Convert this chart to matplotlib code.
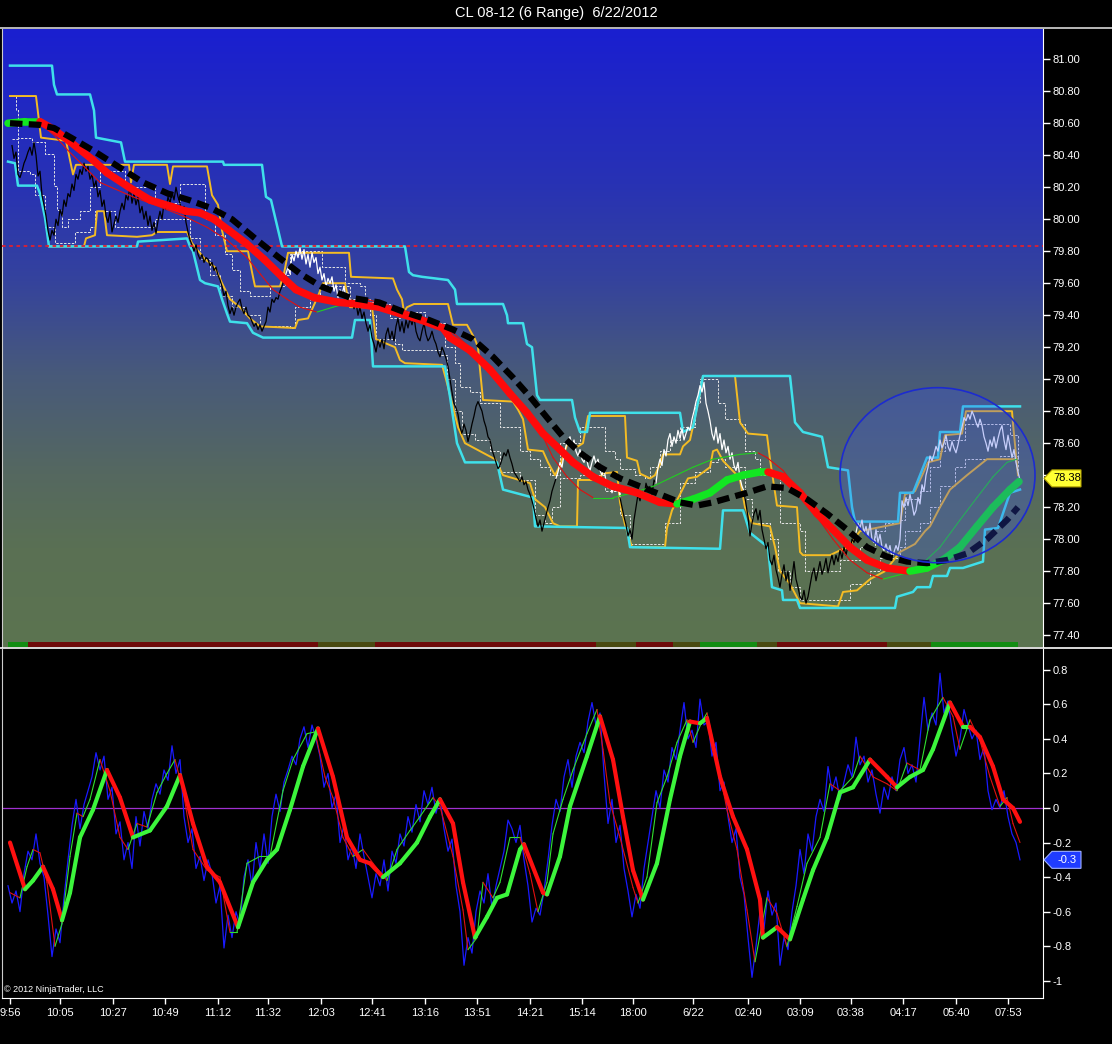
import numpy as np
import matplotlib
matplotlib.use("Agg")
import matplotlib.pyplot as plt
from matplotlib.collections import LineCollection
from matplotlib.colors import LinearSegmentedColormap
from matplotlib.lines import Line2D
from matplotlib.patches import Ellipse, Polygon
from matplotlib.transforms import IdentityTransform

plt.rcParams['font.family'] = ['Liberation Sans', 'DejaVu Sans']

# ---------------- data ----------------
title = "CL 08-12 (6 Range)  6/22/2012"

time_pos = [10, 60, 113, 165, 218, 268, 321, 372, 425, 477, 530, 582, 633, 693, 748, 800, 851, 903, 956, 1008]
time_lbl = ['9:56', '10:05', '10:27', '10:49', '11:12', '11:32', '12:03', '12:41', '13:16', '13:51',
            '14:21', '15:14', '18:00', '6/22', '02:40', '03:09', '03:38', '04:17', '05:40', '07:53']

price_ticks = [77.4, 77.6, 77.8, 78.0, 78.2, 78.4, 78.6, 78.8, 79.0, 79.2, 79.4, 79.6, 79.8, 80.0,
               80.2, 80.4, 80.6, 80.8, 81.0]
osc_ticks = [0.8, 0.6, 0.4, 0.2, 0, -0.2, -0.4, -0.6, -0.8, -1]
osc_tick_lbl = ['0.8', '0.6', '0.4', '0.2', '0', '-0.2', '-0.4', '-0.6', '-0.8', '-1']

last_price = 78.38
last_osc = -0.3
ref_level = 79.83

# price path (one value every 2 bars), split where the colour changes
px_black1 = [80.46, 80.38, 80.42, 80.28, 80.26, 80.30, 80.35, 80.38, 80.42, 80.45,
             80.40, 80.48, 80.40, 80.27, 80.30, 80.15, 80.09, 80.02, 79.93, 79.87,
             79.93, 79.90, 80.00, 79.96, 80.06, 80.02, 80.12, 80.08, 80.16, 80.14,
             80.22, 80.18, 80.28, 80.25, 80.31, 80.28, 80.35, 80.30, 80.33, 80.25,
             80.28, 80.20, 80.24, 80.14, 80.18, 80.08, 80.12, 80.02, 79.98, 80.05,
             79.92, 79.97, 80.02, 79.98, 80.05, 80.10, 80.06, 80.15, 80.12, 80.21,
             80.10, 80.16, 80.09, 80.14, 80.04, 80.08, 80.00, 80.05, 79.96, 80.02,
             79.93, 79.98, 79.91, 79.99, 80.05, 80.00, 80.10, 80.06, 80.14, 80.10,
             80.17, 80.12, 80.20, 80.14, 80.10, 80.04, 80.08, 79.98, 79.92, 79.87,
             79.84, 79.80, 79.84, 79.78, 79.75, 79.78, 79.73, 79.76, 79.75, 79.71,
             79.73, 79.68, 79.70, 79.65, 79.62, 79.58, 79.52, 79.55, 79.46, 79.41,
             79.45, 79.40, 79.45, 79.48, 79.50, 79.44, 79.41, 79.45, 79.40, 79.39,
             79.36, 79.33, 79.35, 79.31, 79.34, 79.30, 79.33, 79.36, 79.45, 79.42,
             79.50, 79.48, 79.51, 79.50, 79.55, 79.58, 79.62]
px_white1 = [79.62, 79.66, 79.70, 79.66, 79.78, 79.74, 79.80, 79.76, 79.82, 79.75,
             79.81, 79.72, 79.78, 79.70, 79.79, 79.73, 79.76, 79.66, 79.70, 79.62,
             79.66, 79.58, 79.63, 79.60, 79.64, 79.55, 79.59, 79.51, 79.56, 79.53,
             79.58, 79.50, 79.54, 79.47, 79.50]
px_black2 = [79.50, 79.44, 79.48, 79.40, 79.45, 79.38, 79.42, 79.35, 79.30, 79.34,
             79.26, 79.22, 79.17, 79.24, 79.20, 79.25, 79.19, 79.28, 79.32, 79.25,
             79.30, 79.24, 79.33, 79.38, 79.30, 79.36, 79.29, 79.37, 79.32, 79.38,
             79.34, 79.39, 79.30, 79.26, 79.24, 79.30, 79.35, 79.28, 79.24, 79.26,
             79.30, 79.25, 79.22, 79.17, 79.14, 79.20, 79.17, 79.13, 79.08, 79.00,
             78.92, 78.85, 78.82, 78.78, 78.70, 78.66, 78.72, 78.68, 78.61, 78.66,
             78.72, 78.77, 78.83, 78.86, 78.83, 78.80, 78.74, 78.70, 78.64, 78.62,
             78.56, 78.52, 78.48, 78.44, 78.46, 78.50, 78.54, 78.52, 78.56, 78.51,
             78.47, 78.42, 78.40, 78.38, 78.36, 78.39, 78.34, 78.36, 78.31, 78.28,
             78.24, 78.19, 78.13, 78.08, 78.12, 78.05, 78.10, 78.15, 78.20, 78.24,
             78.30, 78.34, 78.38]
px_white2 = [78.38, 78.42, 78.48, 78.45, 78.53, 78.58, 78.62, 78.64, 78.58, 78.62,
             78.55, 78.52, 78.56, 78.50, 78.48, 78.53, 78.46, 78.43, 78.48, 78.52,
             78.47, 78.50, 78.43, 78.40, 78.44, 78.36, 78.32, 78.36, 78.29, 78.33,
             78.30, 78.34, 78.26]
px_black3 = [78.26, 78.20, 78.14, 78.09, 78.02, 78.06, 78.00, 78.12, 78.20, 78.28,
             78.24, 78.30, 78.26, 78.35, 78.31, 78.33, 78.28, 78.37, 78.35]
px_white3 = [78.35, 78.45, 78.50, 78.46, 78.56, 78.52, 78.62, 78.66, 78.58, 78.64,
             78.60, 78.68, 78.63, 78.69, 78.62, 78.66, 78.70, 78.68, 78.75, 78.80,
             78.86, 78.90, 78.96, 78.92, 78.98, 78.85, 78.80, 78.74, 78.66, 78.62,
             78.70, 78.60, 78.66, 78.56, 78.62, 78.54, 78.58, 78.50, 78.54, 78.46,
             78.43, 78.48, 78.38, 78.33, 78.30]
px_black4 = [78.30, 78.22, 78.14, 78.02, 78.10, 78.16, 78.19, 78.12, 78.18, 78.06,
             78.00, 77.94, 77.98, 77.87, 77.84, 77.90, 77.81, 77.76, 77.70, 77.78,
             77.84, 77.74, 77.80, 77.68, 77.76, 77.86, 77.75, 77.70, 77.64, 77.62,
             77.68, 77.60, 77.64, 77.71, 77.78, 77.82, 77.74, 77.80, 77.86, 77.78,
             77.82, 77.88, 77.79, 77.85, 77.90, 77.84, 77.90, 77.86, 77.93, 77.88,
             77.95, 77.90, 77.96, 77.93, 78.00, 77.98, 78.04]
px_white4 = [78.04, 78.10, 78.07, 78.12, 78.04, 78.08, 78.02, 78.10, 78.00, 77.98,
             78.06, 77.98, 78.03, 77.95, 77.93, 77.97, 77.92, 77.96, 77.88, 77.92,
             77.96, 77.93, 78.00, 78.24, 78.20, 78.26, 78.21, 78.28, 78.22, 78.15,
             78.18, 78.26, 78.22, 78.34, 78.30, 78.40, 78.45, 78.52, 78.49, 78.53,
             78.58, 78.55, 78.62, 78.57, 78.60, 78.65, 78.58, 78.55, 78.61, 78.57,
             78.54, 78.59, 78.65, 78.70, 78.76, 78.74, 78.78, 78.75, 78.80, 78.77,
             78.73, 78.70, 78.75, 78.71, 78.64, 78.60, 78.55, 78.62, 78.58, 78.64,
             78.57, 78.63, 78.68, 78.71, 78.62, 78.56, 78.65, 78.58, 78.51, 78.56,
             78.48, 78.42, 78.37]
price_pieces = [(12, px_black1, 'black'), (284, px_white1, 'white'), (352, px_black2, 'black'),
                (556, px_white2, 'white'), (620, px_black3, 'black'), (656, px_white3, 'white'),
                (744, px_black4, 'black'), (856, px_white4, 'white')]

# outer (cyan) channel
cyan_up_x = [10, 52, 54, 57, 90, 94, 96, 121, 123, 125, 223, 224, 262, 266, 271, 282, 405, 409, 413, 422,
             448, 455, 457, 503, 507, 508, 523, 527, 532, 537, 540, 572, 575, 580, 587, 590, 680, 683, 693, 700,
             703, 790, 795, 803, 822, 828, 848, 852, 855, 898, 900, 913, 927, 938, 940, 960, 963, 1020]
cyan_up_p = [80.96, 80.96, 80.84, 80.78, 80.78, 80.68, 80.51, 80.48, 80.42, 80.36, 80.36, 80.34, 80.34, 80.14,
             80.12, 79.83, 79.83, 79.67, 79.65, 79.64, 79.62, 79.56, 79.47, 79.47, 79.40, 79.35, 79.35, 79.22,
             79.20, 78.90, 78.87, 78.87, 78.76, 78.67, 78.67, 78.79, 78.79, 78.67, 78.70, 78.92, 79.02, 79.02,
             78.73, 78.67, 78.64, 78.45, 78.43, 78.20, 78.11, 78.11, 78.29, 78.29, 78.51, 78.51, 78.67, 78.67,
             78.83, 78.83]
cyan_lo_x = [8, 15, 18, 37, 40, 45, 49, 137, 138, 187, 190, 193, 200, 205, 218, 222, 227, 230, 247, 253,
             263, 352, 355, 370, 373, 445, 450, 457, 465, 497, 503, 533, 535, 627, 630, 720, 723, 743, 750, 768,
             772, 782, 783, 797, 800, 895, 897, 913, 917, 930, 933, 947, 950, 963, 983, 985, 998, 1010, 1020]
cyan_lo_p = [80.36, 80.35, 80.21, 80.21, 80.16, 80.01, 79.83, 79.83, 79.86, 79.88, 79.83, 79.80, 79.62, 79.60,
             79.58, 79.50, 79.41, 79.36, 79.35, 79.29, 79.26, 79.26, 79.37, 79.37, 79.08, 79.08, 78.89, 78.60,
             78.48, 78.48, 78.31, 78.26, 78.08, 78.07, 77.95, 77.94, 78.18, 78.18, 78.04, 77.95, 77.70, 77.68,
             77.62, 77.62, 77.57, 77.57, 77.64, 77.67, 77.70, 77.70, 77.77, 77.77, 77.82, 77.82, 77.86, 78.06,
             78.07, 78.29, 78.31]

# inner (orange) channel
orange_up_x = [10, 36, 41, 66, 73, 76, 129, 131, 134, 167, 170, 173, 207, 212, 218, 222, 227, 248, 252, 255,
               280, 284, 288, 349, 351, 393, 397, 402, 404, 407, 414, 448, 453, 467, 475, 478, 480, 483, 513, 518,
               523, 528, 543, 548, 555, 560, 567, 578, 583, 588, 625, 627, 637, 640, 650, 655, 660, 663, 680, 683,
               690, 698, 703, 735, 740, 748, 767, 770, 777, 797, 800, 803, 830, 840, 848, 860, 900, 905, 915, 928,
               940, 945, 962, 966, 1012, 1013, 1018]
orange_up_p = [80.77, 80.77, 80.51, 80.49, 80.28, 80.34, 80.34, 80.23, 80.34, 80.34, 80.22, 80.33, 80.33, 80.15,
               80.09, 79.93, 79.80, 79.80, 79.67, 79.58, 79.58, 79.66, 79.79, 79.79, 79.64, 79.63, 79.56, 79.50,
               79.42, 79.45, 79.47, 79.47, 79.34, 79.34, 79.25, 79.20, 79.06, 78.87, 78.86, 78.81, 78.75, 78.56,
               78.55, 78.48, 78.40, 78.46, 78.59, 78.58, 78.60, 78.77, 78.77, 78.51, 78.49, 78.41, 78.38, 78.40,
               78.47, 78.53, 78.53, 78.58, 78.62, 78.85, 79.02, 79.02, 78.73, 78.66, 78.65, 78.50, 78.21, 78.20,
               77.92, 77.90, 77.90, 77.93, 77.95, 78.05, 78.10, 78.28, 78.30, 78.48, 78.50, 78.65, 78.66, 78.80,
               78.80, 78.72, 78.40]
orange_lo_x = [49, 84, 86, 95, 97, 104, 107, 137, 152, 157, 187, 192, 205, 215, 222, 230, 240, 250, 260, 295,
               298, 308, 318, 323, 345, 350, 372, 376, 395, 400, 405, 442, 446, 452, 458, 465, 480, 495, 503, 530,
               535, 545, 553, 560, 577, 578, 600, 602, 617, 620, 625, 632, 665, 667, 672, 688, 697, 710, 713, 717,
               723, 737, 740, 745, 752, 770, 775, 780, 790, 800, 838, 843, 857, 870, 885, 900, 915, 925, 930, 940,
               950, 967, 987, 1017]
orange_lo_p = [79.83, 79.83, 79.88, 79.90, 80.05, 80.05, 79.90, 79.89, 79.90, 79.92, 79.92, 79.85, 79.75, 79.70,
               79.60, 79.50, 79.45, 79.38, 79.33, 79.32, 79.37, 79.38, 79.52, 79.60, 79.60, 79.45, 79.45, 79.25,
               79.20, 79.12, 79.10, 79.09, 79.00, 78.85, 78.70, 78.60, 78.55, 78.50, 78.40, 78.35, 78.25, 78.20,
               78.10, 78.08, 78.08, 78.37, 78.37, 78.41, 78.42, 78.23, 78.09, 77.95, 77.95, 78.07, 78.18, 78.38,
               78.39, 78.45, 78.55, 78.56, 78.49, 78.40, 78.37, 78.20, 78.10, 78.08, 77.95, 77.80, 77.72, 77.60,
               77.58, 77.67, 77.68, 77.75, 77.80, 77.92, 77.97, 78.05, 78.08, 78.20, 78.31, 78.40, 78.50, 78.50]

# white dashed inner band
band_up_x = [12, 16, 18, 32, 43, 45, 54, 57, 62, 68, 80, 90, 100, 120, 125, 150, 155, 175, 180, 200,
             205, 215, 225, 232, 240, 250, 265, 270, 285, 290, 300, 318, 322, 340, 345, 360, 365, 385, 390, 400,
             405, 420, 425, 440, 445, 455, 460, 470, 480, 495, 500, 515, 520, 530, 540, 550, 560, 575, 580, 600,
             605, 615, 620, 635, 645, 650, 660, 670, 680, 695, 700, 715, 718, 725, 740, 745, 755, 760, 775, 780,
             800, 805, 830, 840, 860, 875, 885, 900, 905, 920, 930, 940, 945, 960, 965, 1005, 1010, 1018]
band_up_p = [80.77, 80.68, 80.51, 80.48, 80.48, 80.41, 80.21, 80.06, 79.95, 80.00, 80.05, 80.20, 80.30, 80.30,
             80.20, 80.20, 80.10, 80.10, 80.22, 80.22, 80.00, 79.90, 79.78, 79.68, 79.55, 79.52, 79.52, 79.58,
             79.65, 79.78, 79.80, 79.80, 79.70, 79.70, 79.60, 79.58, 79.48, 79.47, 79.38, 79.40, 79.42, 79.42,
             79.35, 79.35, 79.20, 79.10, 78.95, 78.92, 78.85, 78.85, 78.70, 78.70, 78.55, 78.50, 78.45, 78.40,
             78.60, 78.60, 78.70, 78.70, 78.55, 78.50, 78.44, 78.40, 78.38, 78.45, 78.55, 78.62, 78.70, 78.85,
             79.00, 79.00, 78.85, 78.75, 78.72, 78.55, 78.50, 78.40, 78.40, 78.10, 78.05, 77.80, 77.80, 77.87,
             77.95, 78.05, 78.10, 78.12, 78.25, 78.30, 78.45, 78.55, 78.62, 78.62, 78.72, 78.72, 78.65, 78.50]
band_lo_x = [12, 18, 30, 35, 45, 55, 70, 75, 90, 95, 110, 115, 150, 155, 185, 190, 200, 210, 220, 232,
             245, 260, 290, 295, 310, 320, 345, 350, 370, 376, 395, 402, 440, 447, 455, 462, 475, 490, 500, 520,
             535, 545, 552, 560, 580, 600, 605, 620, 630, 660, 665, 680, 695, 710, 718, 725, 745, 752, 770, 778,
             790, 800, 840, 850, 870, 880, 900, 905, 920, 930, 940, 955, 965, 1000, 1018]
band_lo_p = [80.50, 80.30, 80.28, 80.15, 79.95, 79.85, 79.85, 79.92, 79.95, 80.05, 80.05, 79.95, 79.95, 80.00,
             80.00, 79.88, 79.75, 79.65, 79.52, 79.45, 79.40, 79.33, 79.32, 79.45, 79.50, 79.58, 79.58, 79.50,
             79.40, 79.25, 79.22, 79.18, 79.15, 79.00, 78.80, 78.66, 78.62, 78.55, 78.42, 78.37, 78.15, 78.10,
             78.20, 78.38, 78.40, 78.40, 78.30, 78.15, 77.97, 77.97, 78.10, 78.35, 78.42, 78.48, 78.50, 78.45,
             78.25, 78.10, 78.00, 77.80, 77.70, 77.62, 77.62, 77.72, 77.80, 77.88, 77.95, 78.05, 78.10, 78.20,
             78.33, 78.45, 78.50, 78.52, 78.40]

# smoothed averages on the price panel
fast_x = [8, 25, 40, 54, 71, 93, 107, 129, 150, 171, 186, 200, 214, 229, 246, 264, 282, 296, 314, 339,
          357, 379, 400, 421, 443, 450, 470, 490, 510, 527, 543, 560, 573, 593, 613, 637, 660, 677, 693, 710,
          727, 743, 760, 768, 783, 800, 817, 833, 850, 867, 887, 910, 927, 943, 960, 977, 993, 1010, 1019]
fast_p = [80.60, 80.61, 80.61, 80.56, 80.48, 80.37, 80.29, 80.20, 80.12, 80.08, 80.05, 80.04, 80.00, 79.93,
          79.85, 79.75, 79.64, 79.56, 79.51, 79.48, 79.47, 79.45, 79.41, 79.37, 79.32, 79.26, 79.18, 79.06,
          78.91, 78.79, 78.66, 78.56, 78.48, 78.39, 78.33, 78.29, 78.23, 78.22, 78.25, 78.29, 78.37, 78.40,
          78.42, 78.42, 78.39, 78.29, 78.16, 78.06, 77.95, 77.87, 77.82, 77.80, 77.82, 77.87, 77.95, 78.08,
          78.20, 78.31, 78.36]
slow_x = [10, 39, 54, 71, 93, 118, 143, 168, 189, 211, 232, 257, 279, 300, 321, 350, 379, 404, 429, 453,
          473, 493, 513, 530, 547, 563, 580, 600, 620, 640, 660, 680, 697, 713, 730, 747, 767, 787, 807, 827,
          847, 867, 887, 907, 927, 947, 967, 987, 1007, 1018]
slow_p = [80.60, 80.59, 80.57, 80.51, 80.43, 80.33, 80.23, 80.16, 80.12, 80.07, 80.00, 79.87, 79.76, 79.66,
          79.58, 79.51, 79.48, 79.42, 79.37, 79.31, 79.25, 79.14, 79.01, 78.89, 78.76, 78.64, 78.54, 78.45,
          78.38, 78.33, 78.28, 78.23, 78.21, 78.23, 78.26, 78.29, 78.33, 78.32, 78.25, 78.16, 78.06, 77.95,
          77.89, 77.86, 77.85, 77.87, 77.91, 78.00, 78.12, 78.20]
thin_x = [10, 40, 55, 68, 100, 133, 167, 187, 207, 227, 247, 260, 273, 287, 300, 317, 333, 350, 367, 400,
          430, 455, 475, 495, 520, 540, 553, 567, 580, 593, 613, 633, 653, 673, 693, 713, 740, 758, 767, 783,
          800, 817, 833, 850, 867, 883, 907, 923, 940, 960, 977, 993, 1007, 1017]
thin_p = [80.61, 80.60, 80.52, 80.43, 80.23, 80.14, 80.06, 80.01, 79.95, 79.87, 79.76, 79.66, 79.56, 79.50,
          79.45, 79.42, 79.45, 79.48, 79.50, 79.44, 79.37, 79.28, 79.17, 79.02, 78.85, 78.68, 78.51, 78.39,
          78.31, 78.26, 78.26, 78.29, 78.33, 78.39, 78.45, 78.50, 78.53, 78.54, 78.51, 78.43, 78.29, 78.14,
          78.00, 77.87, 77.79, 77.75, 77.79, 77.85, 77.95, 78.12, 78.26, 78.39, 78.48, 78.50]

# trend strip along the bottom of the price panel
strip_edges = [8, 28, 318, 375, 596, 636, 673, 700, 757, 777, 887, 931, 1018]
strip_state = ['up', 'down', 'flat', 'down', 'flat', 'down', 'flat', 'up', 'flat', 'down', 'flat', 'up']

# oscillator panel: raw (one value every 4 bars), signal and smoothed lines
osc_raw = [-0.45, -0.55, -0.48, -0.60, -0.38, -0.25, -0.30, -0.15, -0.32, -0.40,
           -0.62, -0.86, -0.70, -0.78, -0.52, -0.30, -0.10, 0.05, -0.12, 0.02,
           0.10, 0.18, 0.32, 0.22, 0.30, 0.05, 0.12, -0.15, -0.08, -0.30,
           -0.20, -0.35, -0.05, -0.22, -0.02, -0.12, 0.05, 0.14, 0.08, 0.22,
           0.16, 0.36, 0.20, 0.28, -0.05, -0.20, -0.12, -0.35, -0.28, -0.42,
           -0.30, -0.38, -0.55, -0.45, -0.81, -0.62, -0.75, -0.60, -0.68, -0.40,
           -0.30, -0.45, -0.20, -0.35, -0.15, -0.32, -0.05, 0.08, -0.02, 0.15,
           0.22, 0.30, 0.25, 0.40, 0.47, 0.35, 0.48, 0.40, 0.30, 0.12,
           0.20, 0.00, 0.08, -0.20, -0.10, -0.30, -0.22, -0.35, -0.15, -0.28,
           -0.40, -0.52, -0.38, -0.45, -0.30, -0.48, -0.25, -0.32, -0.15, -0.22,
           -0.05, -0.14, 0.02, -0.08, 0.10, 0.02, 0.12, -0.03, 0.06, -0.12,
           -0.25, -0.18, -0.45, -0.60, -0.91, -0.75, -0.84, -0.60, -0.48, -0.55,
           -0.38, -0.58, -0.45, -0.35, -0.25, -0.07, -0.12, -0.20, -0.10, -0.30,
           -0.45, -0.66, -0.58, -0.62, -0.48, -0.30, -0.10, 0.05, -0.02, 0.18,
           0.28, 0.12, 0.30, 0.38, 0.32, 0.50, 0.61, 0.48, 0.55, 0.20,
           -0.09, 0.05, -0.20, -0.10, -0.35, -0.48, -0.63, -0.50, -0.58, -0.35,
           -0.20, -0.05, 0.10, 0.00, 0.22, 0.15, 0.35, 0.28, 0.45, 0.61,
           0.40, 0.45, 0.35, 0.63, 0.48, 0.50, 0.30, 0.38, 0.10, 0.15,
           -0.05, -0.20, -0.12, -0.40, -0.50, -0.75, -0.98, -0.80, -0.60, -0.70,
           -0.48, -0.62, -0.55, -0.91, -0.75, -0.82, -0.60, -0.45, -0.24, -0.38,
           -0.15, -0.25, -0.05, 0.05, -0.02, 0.24, 0.10, 0.18, 0.05, 0.15,
           0.25, 0.18, 0.41, 0.25, 0.30, 0.15, 0.22, 0.08, -0.03, 0.12,
           0.05, 0.18, 0.10, 0.28, 0.35, 0.20, 0.25, 0.15, 0.40, 0.64,
           0.45, 0.55, 0.48, 0.78, 0.55, 0.62, 0.45, 0.30, 0.40, 0.57,
           0.48, 0.40, 0.45, 0.28, 0.35, 0.10, -0.01, 0.05, 0.00, 0.10,
           -0.05, -0.15, -0.20, -0.30]
osc_sig_x = [10, 20, 27, 33, 40, 47, 55, 62, 70, 77, 83, 90, 100, 110, 120, 128, 137, 147, 157, 167,
             175, 183, 193, 207, 220, 230, 237, 247, 260, 270, 283, 293, 307, 315, 325, 333, 343, 353, 363, 373,
             387, 397, 410, 420, 433, 440, 453, 463, 468, 477, 483, 493, 500, 510, 520, 530, 538, 547, 553, 563,
             573, 587, 597, 603, 610, 620, 633, 638, 647, 657, 667, 677, 687, 693, 702, 707, 717, 727, 737, 747,
             755, 767, 777, 787, 797, 807, 820, 830, 840, 853, 860, 873, 887, 897, 907, 920, 930, 943, 953, 960,
             970, 980, 990, 1000, 1007, 1013, 1020]
osc_sig = [-0.49, -0.52, -0.34, -0.24, -0.26, -0.43, -0.80, -0.67, -0.28, -0.03, -0.05, 0.05, 0.28, 0.10,
           -0.17, -0.24, -0.09, -0.11, 0.09, 0.20, 0.28, 0.10, -0.24, -0.36, -0.40, -0.72, -0.72, -0.32, -0.28,
           -0.28, 0.10, 0.28, 0.43, 0.44, 0.18, 0.06, -0.17, -0.28, -0.24, -0.32, -0.42, -0.24, -0.13, -0.05,
           0.06, 0.01, -0.28, -0.59, -0.82, -0.75, -0.43, -0.52, -0.43, -0.17, -0.17, -0.38, -0.60, -0.43,
           -0.15, 0.05, 0.22, 0.43, 0.57, 0.34, 0.03, -0.17, -0.46, -0.55, -0.40, 0.03, 0.18, 0.38, 0.51, 0.38,
           0.50, 0.55, 0.28, -0.01, -0.24, -0.59, -0.89, -0.52, -0.61, -0.80, -0.57, -0.32, -0.17, 0.14, 0.10,
           0.18, 0.30, 0.18, 0.14, 0.10, 0.26, 0.22, 0.51, 0.64, 0.53, 0.34, 0.51, 0.39, 0.18, 0.01, 0.06,
           -0.09, -0.20]
osc_avg_x = [10, 25, 33, 43, 53, 62, 70, 80, 93, 107, 120, 133, 150, 167, 180, 193, 207, 220, 238, 253,
             267, 277, 290, 303, 318, 333, 347, 360, 370, 383, 400, 417, 430, 440, 453, 463, 475, 487, 497, 507,
             520, 524, 543, 547, 560, 570, 587, 600, 613, 623, 633, 643, 657, 670, 680, 690, 700, 707, 720, 733,
             747, 760, 763, 777, 790, 803, 813, 827, 840, 853, 870, 887, 897, 910, 923, 933, 950, 963, 970, 980,
             993, 1003, 1013, 1020]
osc_avg = [-0.20, -0.47, -0.42, -0.34, -0.47, -0.65, -0.49, -0.17, -0.01, 0.22, 0.06, -0.17, -0.13, 0.01,
           0.19, -0.09, -0.34, -0.43, -0.69, -0.43, -0.30, -0.24, -0.01, 0.24, 0.46, 0.18, -0.17, -0.30, -0.32,
           -0.40, -0.32, -0.20, -0.05, 0.05, -0.09, -0.43, -0.75, -0.63, -0.52, -0.50, -0.24, -0.21, -0.49,
           -0.50, -0.28, 0.01, 0.30, 0.53, 0.28, -0.05, -0.36, -0.53, -0.32, 0.05, 0.30, 0.50, 0.49, 0.52, 0.18,
           -0.05, -0.24, -0.53, -0.75, -0.69, -0.76, -0.53, -0.36, -0.17, 0.09, 0.12, 0.28, 0.18, 0.12, 0.18,
           0.22, 0.34, 0.61, 0.47, 0.47, 0.41, 0.24, 0.05, 0.00, -0.08]

# ---------------- figure ----------------
W, H = 1112, 1044
fig = plt.figure(figsize=(W / 100, H / 100), dpi=100, facecolor='black')


def fx(px):
    return px / W


def fy(py):
    return 1 - py / H


ax = fig.add_axes([fx(2), fy(647), fx(1043) - fx(2), fy(29) - fy(647)])
ax2 = fig.add_axes([fx(2), fy(998), fx(1043) - fx(2), fy(649) - fy(998)])
ax2.set_facecolor('black')


def slope_line(a, x, y, lw, up, down, z):
    # colour each piece by direction, like the indicator does
    x = np.asarray(x, float)
    y = np.asarray(y, float)
    pts = np.column_stack([x, y])
    segs = np.stack([pts[:-1], pts[1:]], axis=1)
    cols = [up if y[i + 1] >= y[i] else down for i in range(len(y) - 1)]
    lc = LineCollection(segs, colors=cols, linewidths=lw, capstyle='round',
                        joinstyle='round', zorder=z)
    a.add_collection(lc)


# gradient background of the price panel
bg = LinearSegmentedColormap.from_list('bg', [
    (0.00, (26 / 255, 31 / 255, 208 / 255)),
    (0.25, (40 / 255, 50 / 255, 180 / 255)),
    (0.40, (52 / 255, 66 / 255, 158 / 255)),
    (0.56, (72 / 255, 90 / 255, 122 / 255)),
    (0.72, (85 / 255, 104 / 255, 96 / 255)),
    (0.84, (90 / 255, 112 / 255, 84 / 255)),
    (1.00, (92 / 255, 116 / 255, 80 / 255))])
ax.imshow(np.linspace(0, 1, 256).reshape(-1, 1), extent=[0, 1, 0, 1], transform=ax.transAxes,
          cmap=bg, aspect='auto', zorder=0, interpolation='bilinear')

strip_col = {'up': '#138c13', 'down': '#6e0a0a', 'flat': '#4a4a12'}
for i, st in enumerate(strip_state):
    ax.axvspan(strip_edges[i], strip_edges[i + 1], ymin=0, ymax=0.0075,
               color=strip_col[st], lw=0, zorder=1)

# channels
ax.plot(band_up_x, band_up_p, drawstyle='steps-post', color='#e6e6e6', lw=0.7,
        ls=(0, (2.5, 1.5)), zorder=2)
ax.plot(band_lo_x, band_lo_p, drawstyle='steps-post', color='#e6e6e6', lw=0.7,
        ls=(0, (2.5, 1.5)), zorder=2)
ax.plot(orange_up_x, orange_up_p, color='#f4bc24', lw=1.4, zorder=3)
ax.plot(orange_lo_x, orange_lo_p, color='#f4bc24', lw=1.4, zorder=3)
ax.plot(cyan_up_x, cyan_up_p, color='#3fe0ea', lw=1.8, zorder=3)
ax.plot(cyan_lo_x, cyan_lo_p, color='#3fe0ea', lw=1.8, zorder=3)

# price
for start, vals, col in price_pieces:
    xs = start + 2 * np.arange(len(vals))
    ax.plot(xs, vals, color=col, lw=0.9, zorder=4)

ax.axhline(ref_level, color='#e02030', lw=1.3, ls=(0, (2, 2)), zorder=4.5)

slope_line(ax, thin_x, thin_p, 0.8, '#20d020', '#e01010', 5)
slope_line(ax, fast_x, fast_p, 5.4, '#12e622', '#ff0a0a', 6)
ax.plot(slow_x, slow_p, color='black', lw=4.5, dashes=(2.0, 1.0), dash_capstyle='butt', zorder=7)

ax.add_patch(Ellipse((937.5, 78.40), width=195, height=1.094, facecolor=(0.22, 0.32, 0.95, 0.28),
                     edgecolor='#1c2bd0', lw=1.2, zorder=9))

ax.set_xlim(2, 1043)
ax.set_ylim(77.326, 81.189)
ax.set_xticks([])
ax.set_yticks(price_ticks)
ax.set_yticklabels(['%.2f' % v for v in price_ticks])

# oscillator
ax2.axhline(0, color='#a030d0', lw=0.9, zorder=1)
raw_x = 8 + 4 * np.arange(len(osc_raw))
ax2.plot(raw_x, osc_raw, color='#1a1aff', lw=0.9, zorder=2)
slope_line(ax2, osc_sig_x, osc_sig, 0.8, '#30e030', '#e01010', 3)
slope_line(ax2, osc_avg_x, osc_avg, 3.0, '#3cf53c', '#ff1010', 4)
ax2.set_xlim(2, 1043)
ax2.set_ylim(-1.0995, 0.92)
ax2.set_yticks(osc_ticks)
ax2.set_yticklabels(osc_tick_lbl)
ax2.set_xticks(time_pos)
ax2.set_xticklabels(time_lbl)
ax2.text(0.002, 0.012, '\u00a9 2012 NinjaTrader, LLC', transform=ax2.transAxes,
         color='white', fontsize=6.5, va='bottom', ha='left')

for a in (ax, ax2):
    for s in a.spines.values():
        s.set_visible(False)
    a.spines['right'].set_visible(True)
    a.spines['right'].set_color('white')
    a.spines['left'].set_visible(True)
    a.spines['left'].set_color('#cccccc')
    a.spines['left'].set_linewidth(0.8)
    a.yaxis.tick_right()
    a.tick_params(axis='y', colors='white', length=5, width=1, labelsize=8, pad=2)
ax2.spines['bottom'].set_visible(True)
ax2.spines['bottom'].set_color('white')
ax2.tick_params(axis='x', colors='white', length=4, width=1, labelsize=8, pad=3)

fig.add_artist(Line2D([0, 1], [fy(28), fy(28)], color='#d8d8d8', lw=1.2))
fig.add_artist(Line2D([0, 1], [fy(648), fy(648)], color='white', lw=1.2))
fig.text(0.5, fy(13), title, color='white', fontsize=10.5, ha='center', va='center')


def value_tag(a, value, text, face, tcolor, edge):
    xr, yr = a.transData.transform((a.get_xlim()[1], value))
    pts = [(xr + 1, yr), (xr + 9, yr + 8.5), (xr + 38, yr + 8.5), (xr + 38, yr - 8.5), (xr + 9, yr - 8.5)]
    fig.add_artist(Polygon(pts, closed=True, transform=IdentityTransform(), facecolor=face,
                           edgecolor=edge, lw=0.8))
    fig.text(xr + 24, yr, text, transform=IdentityTransform(), color=tcolor, fontsize=8,
             ha='center', va='center')


value_tag(ax, last_price, '%.2f' % last_price, '#ffff33', 'black', '#b0a000')
value_tag(ax2, last_osc, '%g' % last_osc, '#1f3cff', 'white', '#9fb0ff')

fig.savefig('out.png', dpi=100, facecolor='black')
